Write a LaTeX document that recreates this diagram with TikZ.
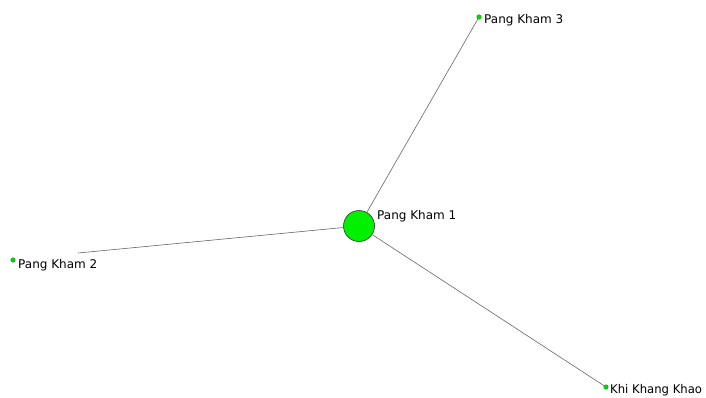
\documentclass[tikz,border=0pt]{standalone}
\usepackage{fontspec}
\setmainfont{DejaVu Sans}
\begin{document}
\begin{tikzpicture}[x=1pt,y=-1pt,
  edge/.style={draw=black!60,line width=0.6pt},
  bignode/.style={circle,draw=black!80,fill={rgb,255:red,0;green,240;blue,0},minimum size=31pt,inner sep=0pt,line width=0.6pt},
  smallnode/.style={circle,draw={rgb,255:red,0;green,150;blue,0},fill={rgb,255:red,0;green,220;blue,0},minimum size=4.5pt,inner sep=0pt,line width=0.4pt},
  lab/.style={anchor=west,inner sep=0pt,font=\fontsize{12}{14}\selectfont}]
\useasboundingbox (0,0) rectangle (706,397);
\node[bignode] (p1) at (359,226) {};
\node[smallnode] (p3) at (479,17) {};
\node[smallnode] (p2) at (13,260) {};
\node[smallnode] (kk) at (606,387) {};
\coordinate (e2) at (78,253);
\draw[edge] (p1) -- (p3);
\draw[edge] (p1) -- (e2);
\draw[edge] (p1) -- (kk);
\node[lab] (l1) at (377,216) {Pang Kham 1};
\node[lab] (l3) at (484,20) {Pang Kham 3};
\node[lab] (l2) at (18,265) {Pang Kham 2};
\node[lab,xscale=0.97] (lk) at (610,390) {Khi Khang Khao};
\end{tikzpicture}
\end{document}
